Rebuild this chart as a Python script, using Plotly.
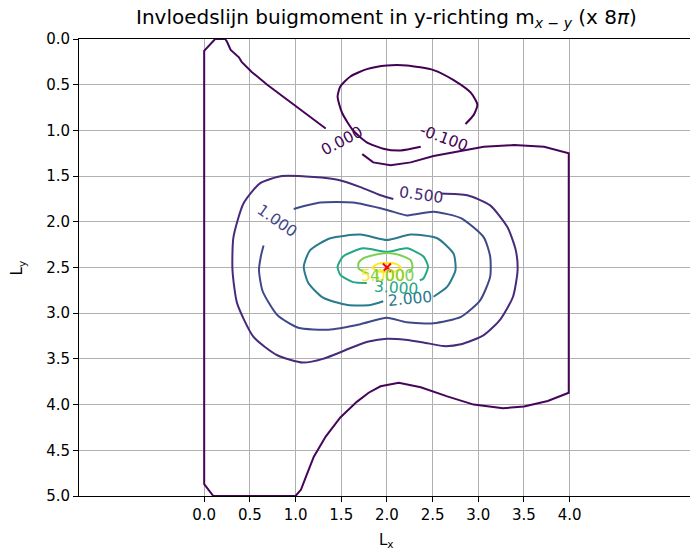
import plotly.graph_objects as go

# contour levels and their viridis colours
LEVEL_COLORS = {
    "-0.1": "#440154",
    "0.0": "#450559",
    "0.5": "#472a7a",
    "1.0": "#3f4889",
    "2.0": "#297a8e",
    "3.0": "#22a884",
    "4.0": "#7ad151",
    "5.0": "#fde725",
}

# level 0.0: one long open path (gap at the "0.000" label)
zero_x = [1.33, 1.13, 0.91, 0.69, 0.52, 0.41, 0.38, 0.29, 0.25, 0.23, 0.12, 0.0, 0.0, 0.1, 1.0,
          1.06, 1.11, 1.2, 1.33, 1.49, 1.67, 1.8, 1.93, 2.13, 2.37, 2.66, 2.95, 3.27, 3.5, 3.76, 3.99, 3.99,
          3.72, 3.39, 3.06, 2.7, 2.51, 2.26, 2.04, 1.85, 1.73]
zero_y = [0.98, 0.83, 0.67, 0.5, 0.36, 0.25, 0.2, 0.12, 0.03, 0.0, 0.0, 0.13, 4.87, 5.0, 5.0,
          4.93, 4.8, 4.57, 4.35, 4.14, 3.97, 3.87, 3.8, 3.76, 3.81, 3.91, 4.0, 4.04, 4.02, 3.96, 3.87, 1.25,
          1.18, 1.16, 1.18, 1.24, 1.28, 1.35, 1.38, 1.35, 1.26]

# level -0.1: loop near the top (gap at "-0.100")
neg_x = [2.37, 2.15, 1.96, 1.78, 1.63, 1.51, 1.46, 1.49, 1.6, 1.78, 2.0, 2.22, 2.51, 2.73, 2.92, 2.99, 2.95, 2.86]
neg_y = [1.18, 1.22, 1.2, 1.13, 1.0, 0.81, 0.63, 0.52, 0.41, 0.33, 0.29, 0.29, 0.34, 0.45, 0.59, 0.72, 0.83, 0.93]

# level 0.5
half_x = [2.59, 2.88, 3.13, 3.32, 3.41, 3.43, 3.38, 3.24, 3.06, 2.81, 2.62, 2.4, 2.2, 2.0, 1.8, 1.63,
          1.3, 1.08, 0.8, 0.54, 0.36, 0.31, 0.32, 0.43, 0.61, 0.85, 1.2, 1.46, 1.71, 1.93, 2.07]
half_y = [1.69, 1.71, 1.82, 2.06, 2.31, 2.53, 2.82, 3.07, 3.24, 3.34, 3.36, 3.32, 3.29, 3.28, 3.31, 3.37,
          3.5, 3.54, 3.46, 3.26, 2.89, 2.53, 2.17, 1.8, 1.58, 1.5, 1.51, 1.54, 1.62, 1.71, 1.75]

# level 1.0
one_x = [0.98, 1.27, 1.63, 2.0, 2.22, 2.51, 2.81, 3.06, 3.13, 3.13, 3.02, 2.81, 2.51, 2.22, 2.0,
         1.71, 1.36, 1.03, 0.8, 0.64, 0.6, 0.62, 0.65]
one_y = [1.86, 1.79, 1.79, 1.87, 1.93, 1.89, 1.96, 2.17, 2.38, 2.6, 2.86, 3.04, 3.11, 3.1, 3.05,
         3.12, 3.18, 3.16, 3.02, 2.76, 2.53, 2.38, 2.26]

# level 2.0
two_x = [2.51, 2.66, 2.75, 2.73, 2.55, 2.26, 2.0, 1.71, 1.38, 1.16, 1.09, 1.14, 1.3, 1.57, 1.82, 1.96]
two_y = [2.82, 2.71, 2.53, 2.35, 2.18, 2.14, 2.2, 2.14, 2.18, 2.31, 2.49, 2.67, 2.83, 2.91, 2.91, 2.87]

# level 3.0
three_x = [2.36, 2.4, 2.45, 2.4, 2.22, 2.0, 1.74, 1.52, 1.46, 1.49, 1.63, 1.78]
three_y = [2.64, 2.62, 2.49, 2.38, 2.29, 2.33, 2.29, 2.38, 2.49, 2.58, 2.66, 2.67]

# level 4.0
four_x = [1.8, 1.69, 1.69, 1.74, 1.87, 2.0, 2.13, 2.26, 2.28, 2.24]
four_y = [2.57, 2.51, 2.45, 2.4, 2.36, 2.34, 2.36, 2.42, 2.5, 2.56]

# level 5.0
five_x = [1.84, 1.9, 2.0, 2.1, 2.15, 2.1, 2.0, 1.9, 1.84]
five_y = [2.5, 2.46, 2.45, 2.46, 2.5, 2.54, 2.55, 2.54, 2.5]

# point load position
load_x = [2.0]
load_y = [2.5]

# contour labels: text, x, y, angle, level
label_text = ["0.000", "-0.100", "0.500", "1.000", "2.000", "3.000", "5.000", "4.000"]
label_x = [1.51, 2.62, 2.37, 0.8, 2.25, 2.1, 1.96, 2.06]
label_y = [1.12, 1.08, 1.71, 1.99, 2.85, 2.72, 2.59, 2.59]
label_angle = [-28, 20, 8, 35, -5, 4, 0, 0]
label_level = ["0.0", "-0.1", "0.5", "1.0", "2.0", "3.0", "5.0", "4.0"]

x_ticks = [0.0, 0.5, 1.0, 1.5, 2.0, 2.5, 3.0, 3.5, 4.0]
y_ticks = [0.0, 0.5, 1.0, 1.5, 2.0, 2.5, 3.0, 3.5, 4.0, 4.5, 5.0]

FONT = "DejaVu Sans"

fig = go.Figure()

segments = [
    (zero_x, zero_y, "0.0", "linear"),
    (neg_x, neg_y, "-0.1", "spline"),
    (half_x, half_y, "0.5", "spline"),
    (one_x, one_y, "1.0", "spline"),
    (two_x, two_y, "2.0", "spline"),
    (three_x, three_y, "3.0", "spline"),
    (four_x, four_y, "4.0", "spline"),
    (five_x, five_y, "5.0", "spline"),
]
for xs, ys, lvl, shape in segments:
    fig.add_trace(go.Scatter(
        x=xs, y=ys, mode="lines",
        line=dict(color=LEVEL_COLORS[lvl], width=2, shape=shape, smoothing=0.6),
        hoverinfo="skip", showlegend=False,
    ))

fig.add_trace(go.Scatter(
    x=load_x, y=load_y, mode="markers",
    marker=dict(symbol="x-thin", size=8, line=dict(color="red", width=2)),
    showlegend=False,
))

for txt, lx, ly, ang, lvl in zip(label_text, label_x, label_y, label_angle, label_level):
    fig.add_annotation(
        x=lx, y=ly, text=txt, showarrow=False, textangle=ang,
        font=dict(family=FONT, size=15.5, color=LEVEL_COLORS[lvl]),
    )

fig.update_xaxes(
    range=[-1.37, 5.317], tickvals=x_ticks, ticktext=[f"{v:.1f}" for v in x_ticks],
    showgrid=True, gridcolor="#b0b0b0", gridwidth=1, zeroline=False,
    showline=True, linecolor="black", linewidth=1, mirror=True,
    ticks="outside", ticklen=5, tickcolor="black",
    tickfont=dict(family=FONT, size=15, color="black"),
)
fig.update_yaxes(
    range=[5, 0], tickvals=y_ticks, ticktext=[f"{v:.1f}" for v in y_ticks],
    showgrid=True, gridcolor="#b0b0b0", gridwidth=1, zeroline=False,
    showline=True, linecolor="black", linewidth=1,
    ticks="outside", ticklen=5, tickcolor="black",
    tickfont=dict(family=FONT, size=15, color="black"),
)

fig.add_annotation(
    xref="paper", yref="paper", x=0.503, y=1.046, yanchor="middle", showarrow=False,
    text="Invloedslijn buigmoment in y-richting m<sub><i>x</i> − <i>y</i></sub> (x 8<i>π</i>)",
    font=dict(family=FONT, size=20, color="black"),
)
fig.add_annotation(
    xref="paper", yref="paper", x=0.503, y=-0.098, yanchor="middle", showarrow=False,
    text="L<sub>x</sub>", font=dict(family=FONT, size=15, color="black"),
)
fig.add_annotation(
    xref="paper", yref="paper", x=-0.1, y=0.5, xanchor="center", showarrow=False, textangle=-90,
    text="L<sub>y</sub>", font=dict(family=FONT, size=15, color="black"),
)

fig.update_layout(
    width=690, height=554,
    margin=dict(l=79, r=0, t=39, b=58),
    plot_bgcolor="white", paper_bgcolor="white",
    showlegend=False,
)

fig.write_html("out.html", config={"displayModeBar": False},
               post_script="document.body.style.margin='0';")
